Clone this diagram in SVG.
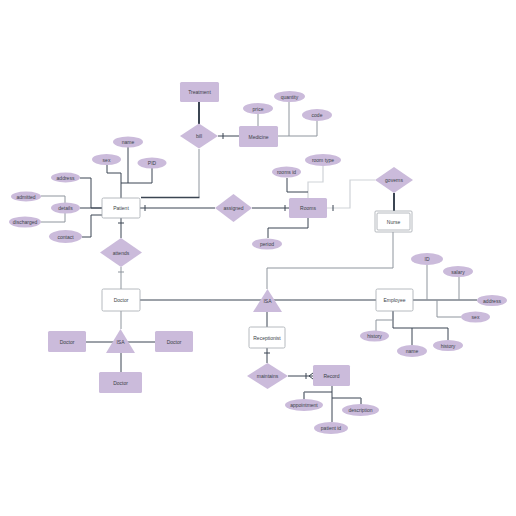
<svg xmlns="http://www.w3.org/2000/svg" width="516" height="516" viewBox="0 0 516 516">
<style>
.p{fill:#cbbbdb;}
.w{fill:#fff;stroke:#a3a8ae;stroke-width:0.8;}
.t{font-family:"Liberation Sans",Arial,sans-serif;font-size:5px;fill:#3a3f47;text-anchor:middle;dominant-baseline:central;}
.d{fill:none;stroke:#3b4552;stroke-width:1;}
.g{fill:none;stroke:#8e959d;stroke-width:1;}
.l{fill:none;stroke:#cfd3d7;stroke-width:1.2;}
.k{fill:none;stroke:#3b4552;stroke-width:2;}
</style>
<rect width="516" height="516" fill="#fff"/>
<g id="connectors">
<path class="k" d="M199,102 V124"/>
<path class="d" d="M218,136 H239 M223,133 V139"/>
<path class="g" d="M258,114 V126"/>
<path class="g" d="M278,136 H317 V121 M289,136 V102"/>
<path class="g" d="M199,149 V197"/>
<path class="d" d="M199.5,197.5 H141" style="stroke-width:1.4"/>
<path class="d" d="M140,208 H215 M145,205 V211"/>
<path class="d" d="M252,208 H289 M285,205 V211"/>
<path class="l" d="M308,198 V182 H323 V166"/>
<path class="d" d="M287,178 V192 H308"/>
<path class="d" d="M308,218 V228 H268 V238"/>
<path class="l" d="M327,208 H350 V180 H375"/>
<path class="d" d="M333,205 V211"/>
<path class="k" d="M394,193 V211"/>
<path class="g" d="M393,232 V268 H267 V289"/>
<path class="d" d="M140,300 H376"/>
<path class="d" d="M413,300 H477"/>
<path class="g" d="M427,265 V300 M459,277 V300 M437,300 V317 H461"/>
<path class="d" d="M393,311 V328 H448 V340 M412,328 V345"/>
<path class="g" d="M393,311 V320 H376 V331"/>
<path class="d" d="M267,312 V327"/>
<path class="d" d="M267,348 V363 M264,353 H270"/>
<path class="d" d="M288,376 H313 M306,373 V379 M309,376 L313,373 M309,376 L313,379"/>
<path class="d" d="M332,386 V422 M332,392 H304 V399 M332,398 H361 V404"/>
<path class="g" d="M304,392 V399 M361,398 V404"/>
<path class="d" d="M121,218 V238 M118,223 H124"/>
<path class="g" d="M121,267 V289 M118,272 H124"/>
<path class="g" d="M121,311 V329"/>
<path class="d" d="M86,342 H155"/>
<path class="d" d="M121,353 V372"/>
<path class="d" d="M121,198 V173 H107 V165 M128,147 V183 M152,168 V183 H121"/>
<path class="d" d="M80,178 H91 V208 H102 M80,208 H102 M82,237 H91 V215 H102"/>
<path class="g" d="M41,196 H65 V203 M41,222 H65 V213"/>
</g>
<g id="Treatment"><rect class="p" x="180" y="82" width="39" height="20" rx="1.5"/><text class="t" x="199.5" y="92">Treatment</text></g>
<g id="bill"><polygon class="p" points="199,123.5 218,136 199,148.5 180,136"/><text class="t" x="199" y="136">bill</text></g>
<g id="Medicine"><rect class="p" x="239" y="126" width="39" height="21" rx="1.5"/><text class="t" x="258.5" y="136.5">Medicine</text></g>
<g id="price"><ellipse class="p" cx="258" cy="108.5" rx="15" ry="5.5"/><text class="t" x="258" y="108.5">price</text></g>
<g id="quantity"><ellipse class="p" cx="289.5" cy="96.5" rx="15.5" ry="5.5"/><text class="t" x="289.5" y="96.5">quantity</text></g>
<g id="code"><ellipse class="p" cx="317" cy="115" rx="15" ry="6"/><text class="t" x="317" y="115">code</text></g>
<g id="Patient"><rect class="w" x="102" y="198" width="38" height="20" rx="1.5"/><text class="t" x="121" y="208">Patient</text></g>
<g id="name"><ellipse class="p" cx="128" cy="142" rx="15" ry="5.5"/><text class="t" x="128" y="142">name</text></g>
<g id="sex"><ellipse class="p" cx="106.5" cy="159.5" rx="14.5" ry="5.5"/><text class="t" x="106.5" y="159.5">sex</text></g>
<g id="PID"><ellipse class="p" cx="152" cy="163" rx="14.5" ry="5.5"/><text class="t" x="152" y="163">PID</text></g>
<g id="address"><ellipse class="p" cx="65.5" cy="177.5" rx="14.5" ry="5"/><text class="t" x="65.5" y="177.5">address</text></g>
<g id="details"><ellipse class="p" cx="65.5" cy="208" rx="14.5" ry="5.5"/><text class="t" x="65.5" y="208">details</text></g>
<g id="admitted"><ellipse class="p" cx="26" cy="196.5" rx="15" ry="5"/><text class="t" x="26" y="196.5">admitted</text></g>
<g id="discharged"><ellipse class="p" cx="25" cy="222" rx="16" ry="5.5"/><text class="t" x="25" y="222">discharged</text></g>
<g id="contact"><ellipse class="p" cx="65.5" cy="236.5" rx="16.5" ry="6.5"/><text class="t" x="65.5" y="236.5">contact</text></g>
<g id="assigned"><polygon class="p" points="233.5,194 252,208 233.5,222 215,208"/><text class="t" x="233.5" y="208">assigned</text></g>
<g id="Rooms"><rect class="p" x="289" y="198" width="38" height="20" rx="1.5"/><text class="t" x="308" y="208">Rooms</text></g>
<g id="roomsid"><ellipse class="p" cx="286.5" cy="172" rx="14.5" ry="5.5"/><text class="t" x="286.5" y="172">rooms id</text></g>
<g id="roomtype"><ellipse class="p" cx="323" cy="160" rx="18" ry="6"/><text class="t" x="323" y="160">room type</text></g>
<g id="period"><ellipse class="p" cx="267" cy="244" rx="15" ry="5.5"/><text class="t" x="267" y="244">period</text></g>
<g id="governs"><polygon class="p" points="394,167 413,180 394,193 375,180"/><text class="t" x="394" y="180">governs</text></g>
<g id="Nurse"><rect class="w" x="375" y="211" width="37" height="21" rx="1"/><rect class="w" x="377" y="213" width="33" height="17" rx="1"/><text class="t" x="393.5" y="221.5">Nurse</text></g>
<g id="attends"><polygon class="p" points="121,238 142,252.5 121,267 100,252.5"/><text class="t" x="121" y="252.5">attends</text></g>
<g id="Doctor"><rect class="w" x="102" y="289" width="38" height="22" rx="1.5"/><text class="t" x="121" y="300">Doctor</text></g>
<g id="ISA-left"><polygon class="p" points="120.5,329 135,353 106,353"/><text class="t" x="120.5" y="342">ISA</text></g>
<g id="Doctor-left"><rect class="p" x="48" y="331" width="38" height="21" rx="1.5"/><text class="t" x="67" y="341.5">Doctor</text></g>
<g id="Doctor-right"><rect class="p" x="155" y="331" width="38" height="21" rx="1.5"/><text class="t" x="174" y="341.5">Doctor</text></g>
<g id="Doctor-bottom"><rect class="p" x="99" y="372" width="43" height="21" rx="1.5"/><text class="t" x="120.5" y="382.5">Doctor</text></g>
<g id="ISA-right"><polygon class="p" points="267.5,289 282,312 253,312"/><text class="t" x="267.5" y="301">ISA</text></g>
<g id="Employee"><rect class="w" x="376" y="289" width="37" height="22" rx="1.5"/><text class="t" x="394.5" y="300">Employee</text></g>
<g id="ID"><ellipse class="p" cx="427" cy="259" rx="16" ry="6"/><text class="t" x="427" y="259">ID</text></g>
<g id="salary"><ellipse class="p" cx="458" cy="271.5" rx="15" ry="5.5"/><text class="t" x="458" y="271.5">salary</text></g>
<g id="address2"><ellipse class="p" cx="492" cy="300.5" rx="15" ry="5.5"/><text class="t" x="492" y="300.5">address</text></g>
<g id="sex2"><ellipse class="p" cx="475.5" cy="317" rx="14.5" ry="5.5"/><text class="t" x="475.5" y="317">sex</text></g>
<g id="history1"><ellipse class="p" cx="374.5" cy="336" rx="14.5" ry="5.5"/><text class="t" x="374.5" y="336">history</text></g>
<g id="name2"><ellipse class="p" cx="412" cy="351" rx="15" ry="6"/><text class="t" x="412" y="351">name</text></g>
<g id="history2"><ellipse class="p" cx="448" cy="345.5" rx="15" ry="5.5"/><text class="t" x="448" y="345.5">history</text></g>
<g id="Receptionist"><rect class="w" x="249" y="327" width="36" height="21" rx="1.5"/><text class="t" x="267" y="337.5">Receptionist</text></g>
<g id="maintains"><polygon class="p" points="267.5,363 288,376 267.5,389 247,376"/><text class="t" x="267.5" y="376">maintains</text></g>
<g id="Record"><rect class="p" x="313" y="365" width="37" height="21" rx="1.5"/><text class="t" x="331.5" y="375.5">Record</text></g>
<g id="appointment"><ellipse class="p" cx="304" cy="405" rx="19" ry="6"/><text class="t" x="304" y="405">appointment</text></g>
<g id="description"><ellipse class="p" cx="360.5" cy="410" rx="18.5" ry="6"/><text class="t" x="360.5" y="410">description</text></g>
<g id="patientid"><ellipse class="p" cx="331" cy="428" rx="17" ry="6"/><text class="t" x="331" y="428">patient id</text></g>
</svg>
